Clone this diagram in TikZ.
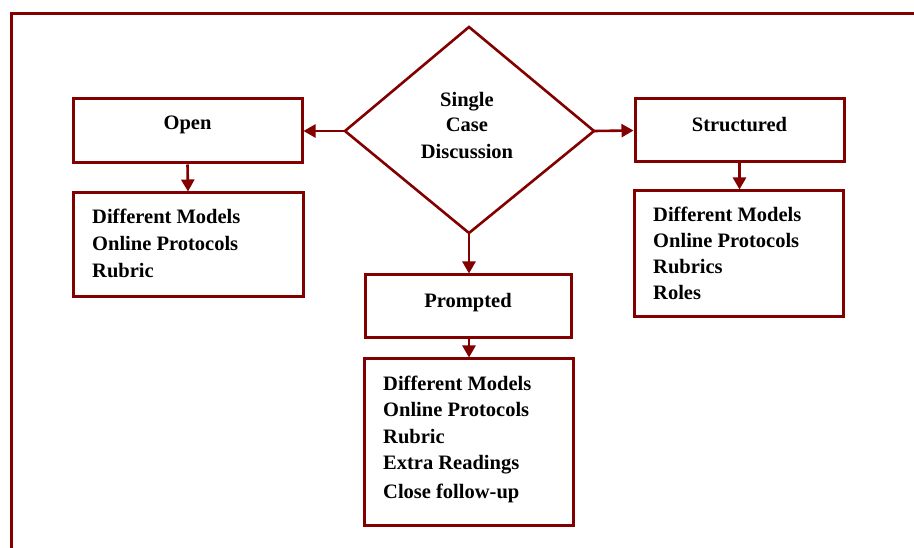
\documentclass[tikz,border=0pt]{standalone}
\usepackage{fontspec}
\setmainfont{Liberation Serif}
\usetikzlibrary{arrows.meta}
\definecolor{frameRed}{RGB}{130,0,0}
\begin{document}
\begin{tikzpicture}[x=1pt,y=-1pt,
  box/.style={draw=frameRed,line width=3pt,inner sep=0pt,fill=white},
  txt/.style={font=\bfseries\fontsize{20.5}{24}\selectfont,anchor=base west,inner sep=0pt},
  hdr/.style={font=\bfseries\fontsize{20.5}{24}\selectfont,anchor=base,inner sep=0pt},
  arr/.style={draw=frameRed,line width=2.6pt,-{Triangle[length=12pt,width=13pt]}}]
\useasboundingbox (0,0) rectangle (914,548);
\clip (0,0) rectangle (914,548);
\fill[white] (0,0) rectangle (914,548);
% outer frame (cropped)
\draw[frameRed,line width=3pt] (11.5,560) -- (11.5,14) -- (930,14);
% diamond
\coordinate (dt) at (469,27);
\coordinate (dr) at (594,131);
\coordinate (db) at (469,233);
\coordinate (dl) at (345,131);
\draw[frameRed,line width=2.6pt,line join=miter] (dt) -- (dr) -- (db) -- (dl) -- cycle;
\node[hdr] (dsingle) at (467,107) {Single};
\node[hdr] (dcase) at (467,132) {Case};
\node[hdr] (ddisc) at (467,159) {Discussion};
% boxes
\node[box,minimum width=229pt,minimum height=64pt] (open) at (187.5,131) {};
\node[box,minimum width=230pt,minimum height=104pt] (opendet) at (188,245) {};
\node[box,minimum width=209pt,minimum height=63pt] (struct) at (739.5,130.5) {};
\node[box,minimum width=209pt,minimum height=126pt] (structdet) at (738.5,254) {};
\node[box,minimum width=206pt,minimum height=63pt] (prompt) at (468,306.5) {};
\node[box,minimum width=209pt,minimum height=166pt] (promptdet) at (468.5,442) {};
% headers
\node[hdr] (openlbl) at (187.5,130) {Open};
\node[hdr] (structlbl) at (739.5,132) {Structured};
\node[hdr] (promptlbl) at (468,308) {Prompted};
% open details
\node[txt] (o1) at (92,224) {Different Models};
\node[txt] (o2) at (92,251) {Online Protocols};
\node[txt] (o3) at (92,278) {Rubric};
% structured details
\node[txt] (s1) at (653,222) {Different Models};
\node[txt] (s2) at (653,248) {Online Protocols};
\node[txt] (s3) at (653,274) {Rubrics};
\node[txt] (s4) at (653,300) {Roles};
% prompted details
\node[txt] (p1) at (383,390) {Different Models};
\node[txt] (p2) at (383,417) {Online Protocols};
\node[txt] (p3) at (383,443) {Rubric};
\node[txt] (p4) at (383,469) {Extra Readings};
\node[txt] (p5) at (383,498) {Close follow-up};
% connectors
\draw[arr] (dl) -- (open.east);
\draw[arr] (dr) -- (struct.west);
\draw[arr] (db) -- (prompt.north -| db);
\draw[arr] (open.south) -- (opendet.north);
\draw[arr] (struct.south) -- (structdet.north -| struct.south);
\draw[arr] (prompt.south -| db) -- (promptdet.north -| db);
\end{tikzpicture}
\end{document}
